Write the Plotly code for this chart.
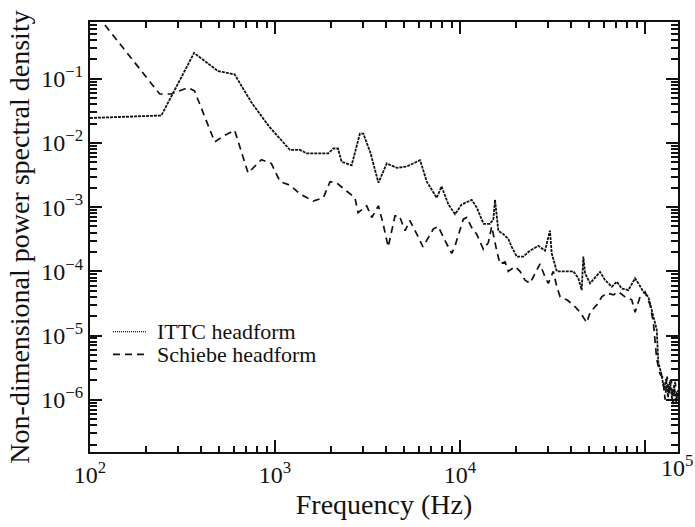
import plotly.graph_objects as go

# ITTC headform
ittc_f = [100, 243, 365, 492, 605, 745, 930, 1205, 1365, 1483, 1941, 2066, 2187, 2292, 2594,
          2877, 3000, 3265, 3623, 4017, 4550, 5155, 6083, 6610, 7480, 7950, 8650, 9400,
          10200, 11560, 12300, 13400, 14520, 15140, 15460, 16100, 17140, 18240, 19020,
          20250, 21980, 23890, 26490, 28790, 30620, 31300, 33340, 36960, 40970, 43590,
          45450, 46380, 47400, 50450, 57130, 60800, 66100, 70300, 74800, 81300, 88300,
          92000, 98000, 104200, 108600, 115600, 118000, 123000, 126700, 130000, 133000,
          136500, 140000, 143500, 147200, 150700]
ittc_p = [0.0245, 0.0268, 0.253, 0.132, 0.117, 0.043, 0.018, 0.0078, 0.0078, 0.0069, 0.0069,
          0.0082, 0.0082, 0.0051, 0.0045, 0.014, 0.014, 0.0073, 0.0024, 0.0048, 0.0041,
          0.0043, 0.0054, 0.0025, 0.0014, 0.0021, 0.0011, 0.00078, 0.0011, 0.0013, 0.00099,
          0.00055, 0.00055, 0.00065, 0.0013, 0.00043, 0.00038, 0.00032, 0.00024, 0.00017,
          0.00017, 0.00021, 0.00025, 0.00021, 0.00043, 0.00019, 0.0001, 0.0001, 0.0001,
          0.000078, 0.000051, 0.00017, 0.000093, 0.000065, 0.000098, 0.000073, 0.0000575,
          0.000069, 0.000054, 0.000051, 0.000078, 0.000065, 0.000048, 0.00004, 0.000025,
          0.0000124, 0.0000038, 0.0000024, 1.4e-6, 2.1e-6, 1.1e-6, 2.0e-6, 1.0e-6, 1.7e-6,
          0.9e-6, 1.4e-6]

# Schiebe headform
schiebe_f = [100, 238, 275, 339, 367, 472, 535, 605, 715, 844, 955, 1065, 1205, 1365, 1610,
             1825, 1983, 2150, 2445, 2705, 2810, 3130, 3335, 3620, 3845, 4090, 4450, 4700,
             5050, 5350, 5840, 6300, 7180, 7620, 8300, 9020, 9400, 10420, 10870, 11560,
             12300, 13370, 14220, 14830, 15780, 16450, 17510, 18240, 19820, 21090, 22440,
             23890, 25430, 27050, 28790, 29990, 31920, 33340, 34750, 37760, 40970, 44560,
             48420, 50450, 54840, 58360, 62110, 67450, 71780, 77980, 84720, 88310, 93970,
             100000, 106400, 110900, 115600, 120500, 125000, 128300, 131600, 134900,
             138400, 141700, 145300, 148900]
schiebe_p = [1.35, 0.058, 0.058, 0.073, 0.065, 0.0104, 0.0132, 0.0158, 0.0034, 0.0055, 0.0048,
             0.0025, 0.0022, 0.0016, 0.00124, 0.0014, 0.0025, 0.0024, 0.00177, 0.0014, 0.00082,
             0.00105, 0.00069, 0.00105, 0.00054, 0.00024, 0.00073, 0.00073, 0.00043, 0.00062,
             0.00038, 0.00024, 0.00046, 0.0005, 0.0003, 0.00019, 0.00025, 0.00065, 0.00069,
             0.00048, 0.00038, 0.00022, 0.00028, 0.0005, 0.00021, 0.00013, 0.00014, 0.0001,
             0.000118, 0.0001, 0.000073, 0.000065, 0.000093, 0.00013, 0.000082, 0.000065,
             0.0001, 0.0000575, 0.00004, 0.000036, 0.00003, 0.000023, 0.0000158, 0.000023,
             0.00003, 0.00004, 0.000046, 0.000043, 0.000048, 0.00004, 0.000036, 0.000023,
             0.00004, 0.000048, 0.00003, 0.0000158, 0.0000043, 0.0000025, 2.2e-6, 1.0e-6,
             2.3e-6, 1.2e-6, 2.1e-6, 0.85e-6, 1.9e-6, 1.1e-6]

x_major = [1e2, 1e3, 1e4, 1e5]
x_major_text = ["10<sup>2</sup>", "10<sup>3</sup>", "10<sup>4</sup>", ""]
y_major = [1e-6, 1e-5, 1e-4, 1e-3, 1e-2, 1e-1]
y_major_text = ["10<sup>−6</sup>", "10<sup>−5</sup>", "10<sup>−4</sup>",
                "10<sup>−3</sup>", "10<sup>−2</sup>", "10<sup>−1</sup>"]
legend_names = ["ITTC headform", "Schiebe headform"]

x_minor = [m * 10 ** e for e in range(2, 6) for m in range(2, 10)]
y_minor = [m * 10.0 ** e for e in range(-7, 0) for m in range(2, 10)]

FONT = "Liberation Serif"
INK = "#111111"
ittc_dash = "3px,1px"
sch_dash = "7px,5px"

fig = go.Figure()
fig.add_trace(go.Scatter(x=ittc_f, y=ittc_p, mode="lines", name=legend_names[0],
                         line=dict(color=INK, width=1.8, dash=ittc_dash), showlegend=False))
fig.add_trace(go.Scatter(x=schiebe_f, y=schiebe_p, mode="lines", name=legend_names[1],
                         line=dict(color=INK, width=1.7, dash=sch_dash), showlegend=False))

axis_common = dict(showline=True, linewidth=2, linecolor=INK, mirror="allticks",
                   ticks="inside", ticklen=12, tickwidth=2, tickcolor=INK,
                   showgrid=False, zeroline=False,
                   tickfont=dict(family=FONT, size=24, color=INK))

fig.update_xaxes(type="log", range=[2, 5.178], tickmode="array", tickvals=x_major,
                 ticktext=x_major_text,
                 minor=dict(tickmode="array", tickvals=x_minor, ticks="inside", ticklen=6,
                            tickwidth=2, tickcolor=INK, showgrid=False),
                 title=dict(text="Frequency (Hz)", font=dict(family=FONT, size=28, color=INK),
                            standoff=8),
                 **axis_common)
fig.update_yaxes(type="log", range=[-6.815, -0.115], tickmode="array", tickvals=y_major,
                 ticktext=y_major_text,
                 minor=dict(tickmode="array", tickvals=y_minor, ticks="inside", ticklen=7,
                            tickwidth=2, tickcolor=INK, showgrid=False),
                 title=dict(text="Non-dimensional power spectral density",
                            font=dict(family=FONT, size=28, color=INK), standoff=4),
                 **axis_common)

def px_x(p):
    return (p - 90) / 588.0

def px_y(p):
    return (458 - p) / 436.0

shapes = [
    dict(type="line", xref="paper", yref="paper", x0=px_x(113), x1=px_x(147),
         y0=px_y(336), y1=px_y(336), line=dict(color=INK, width=1.2, dash="1px,1px")),
    dict(type="line", xref="paper", yref="paper", x0=px_x(113), x1=px_x(149),
         y0=px_y(359), y1=px_y(359), line=dict(color=INK, width=1.6, dash=sch_dash)),
]
annotations = [
    dict(text=legend_names[0], xref="paper", yref="paper", x=px_x(155), y=px_y(336),
         xanchor="left", yanchor="middle", showarrow=False,
         font=dict(family=FONT, size=22, color=INK)),
    dict(text=legend_names[1], xref="paper", yref="paper", x=px_x(155), y=px_y(359),
         xanchor="left", yanchor="middle", showarrow=False,
         font=dict(family=FONT, size=22, color=INK)),
    dict(text="10<sup>5</sup>", xref="paper", yref="paper", x=px_x(659), y=px_y(472),
         xanchor="left", yanchor="middle", showarrow=False,
         font=dict(family=FONT, size=24, color=INK)),
]

fig.update_layout(width=695, height=527, margin=dict(l=90, r=17, t=22, b=69),
                  paper_bgcolor="white", plot_bgcolor="white",
                  shapes=shapes, annotations=annotations,
                  font=dict(family=FONT, color=INK))

fig.write_html("out.html")
